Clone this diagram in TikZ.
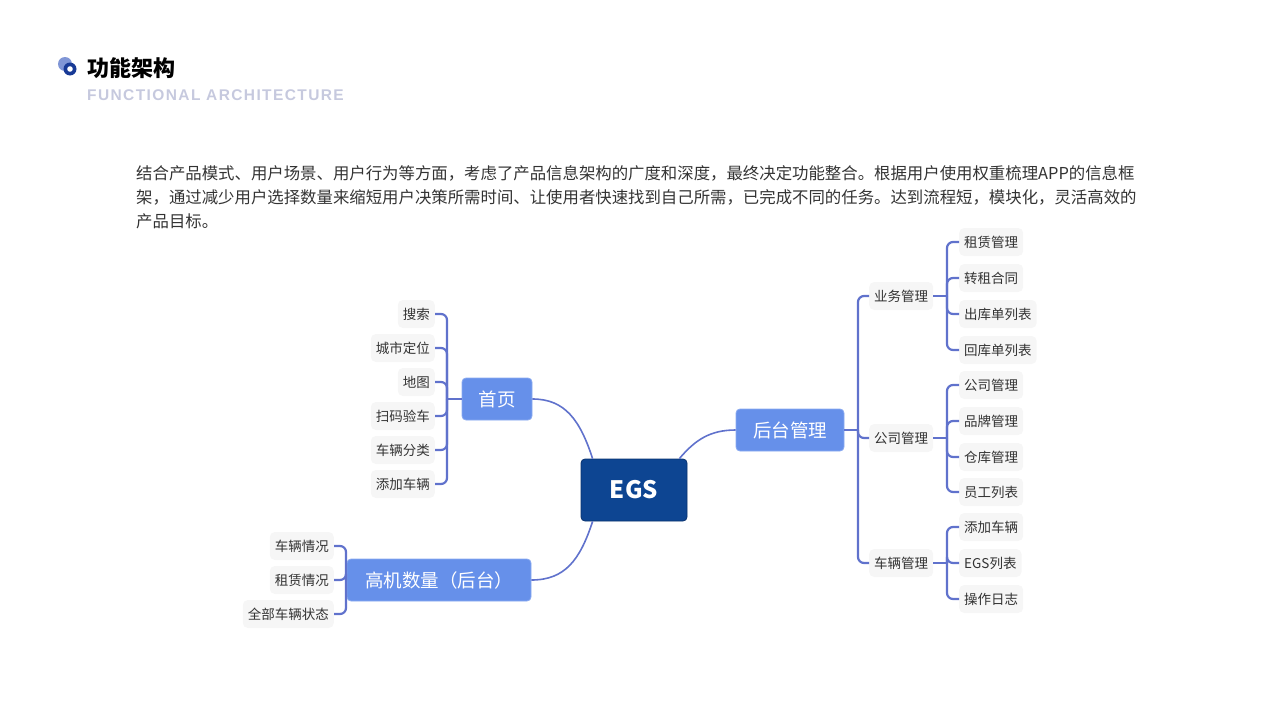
\documentclass[tikz,border=0pt]{standalone}
\usepackage{fontspec}
\setmainfont{Noto Sans CJK SC}
\newfontfamily\subfont[LetterSpace=9]{Liberation Sans}
\begin{document}
\begin{tikzpicture}[x=1pt,y=-1pt,
  line/.style={draw=lc,line width=2.2pt},
  main/.style={fill=mb,draw=mbd,line width=0.8pt,rounded corners=4pt,text=white,font=\fontsize{18.5}{20}\selectfont,minimum height=42pt,inner sep=0pt},
  leaf/.style={fill=lf,rounded corners=5pt,text=tx,font=\fontsize{13.5}{15}\selectfont,minimum height=28pt,inner xsep=5pt},
  lleaf/.style={leaf,anchor=east},
  rleaf/.style={leaf,anchor=west},
  para/.style={anchor=west,text=tx,font=\fontsize{16.4}{17}\selectfont,inner sep=0pt}]
\definecolor{lc}{HTML}{6072CC}
\definecolor{mb}{HTML}{6690EA}
\definecolor{mbd}{HTML}{8AAAF0}
\definecolor{lf}{HTML}{F6F6F6}
\definecolor{tx}{HTML}{333333}
\definecolor{eg}{HTML}{0D4592}
\definecolor{sub}{HTML}{C6C9DE}
\useasboundingbox (0,0) rectangle (1280,720);
% header
\fill[color={rgb,255:red,128;green,150;blue,214}] (65,64) circle (7);
\fill[color={rgb,255:red,24;green,58;blue,150}] (70,69) circle (6.5);
\fill[white] (70,69) circle (2.8);
\node[anchor=west,inner sep=0pt,font=\fontsize{22}{24}\selectfont\bfseries] (title) at (87,68) {功能架构};
\node[anchor=west,inner sep=0pt,text=sub,font=\subfont\fontsize{15.5}{17}\selectfont\bfseries] (subt) at (87,95) {FUNCTIONAL ARCHITECTURE};
\node[para] (p1) at (136,173) {结合产品模式、用户场景、用户行为等方面，考虑了产品信息架构的广度和深度，最终决定功能整合。根据用户使用权重梳理APP的信息框};
\node[para] (p2) at (136,197) {架，通过减少用户选择数量来缩短用户决策所需时间、让使用者快速找到自己所需，已完成不同的任务。达到流程短，模块化，灵活高效的};
\node[para] (p3) at (136,221) {产品目标。};
% main nodes
\node[fill=eg,draw={rgb,255:red,10;green,50;blue,110},line width=0.8pt,rounded corners=4pt,text=white,font=\fontsize{24}{26}\selectfont\bfseries,minimum width=106pt,minimum height=62pt] (egs) at (634,490) {EGS};
\node[main,minimum width=70pt] (home) at (497,399) {首页};
\node[main,minimum width=108pt] (back) at (790,430) {后台管理};
\node[main,minimum width=184pt] (gj) at (439,580) {高机数量（后台）};
\draw[line,line width=1.6pt] (egs.north west)++(12,0) .. controls (580,420) and (565,399) .. (home.east);
\draw[line,line width=1.6pt] (egs.north east)++(-8,0) .. controls (695,440) and (710,430) .. (back.west);
\draw[line,line width=1.6pt] (egs.south west)++(12,0) .. controls (580,560) and (565,580) .. (gj.east);
% home leaves
\foreach \n/\t/\y in {h1/搜索/314,h2/城市定位/348,h3/地图/382,h4/扫码验车/416,h5/车辆分类/450,h6/添加车辆/484}{
  \node[lleaf] (\n) at (435,\y) {\t};
  \draw[line,rounded corners=6pt] (home.west -| 447,0) |- (\n.east);
}
\draw[line] (home.west) -- (home.west -| 447,0);
% gj leaves
\foreach \n/\t/\y in {g1/车辆情况/546,g2/租赁情况/580,g3/全部车辆状态/614}{
  \node[lleaf] (\n) at (334,\y) {\t};
  \draw[line,rounded corners=6pt] (gj.west -| 346,0) |- (\n.east);
}
\draw[line] (gj.west) -- (gj.west -| 346,0);
% back level 2
\foreach \n/\t/\y in {b1/业务管理/296,b2/公司管理/438,b3/车辆管理/563}{
  \node[rleaf] (\n) at (869,\y) {\t};
  \draw[line,rounded corners=6pt] (back.east -| 858,0) |- (\n.west);
}
\draw[line] (back.east) -- (back.east -| 858,0);
% level 3
\foreach \p/\lst in {b1/{c1/租赁管理/242,c2/转租合同/278,c3/出库单列表/314,c4/回库单列表/350},
                     b2/{d1/公司管理/385,d2/品牌管理/421,d3/仓库管理/457,d4/员工列表/492},
                     b3/{e1/添加车辆/527,e2/EGS列表/563,e3/操作日志/599}}{
  \draw[line] (\p.east) -- (\p.east -| 947,0);
  \foreach \n/\t/\y in \lst {
    \node[rleaf] (\n) at (959,\y) {\t};
    \draw[line,rounded corners=6pt] (\p.east -| 947,0) |- (\n.west);
  }
}
\end{tikzpicture}
\end{document}
